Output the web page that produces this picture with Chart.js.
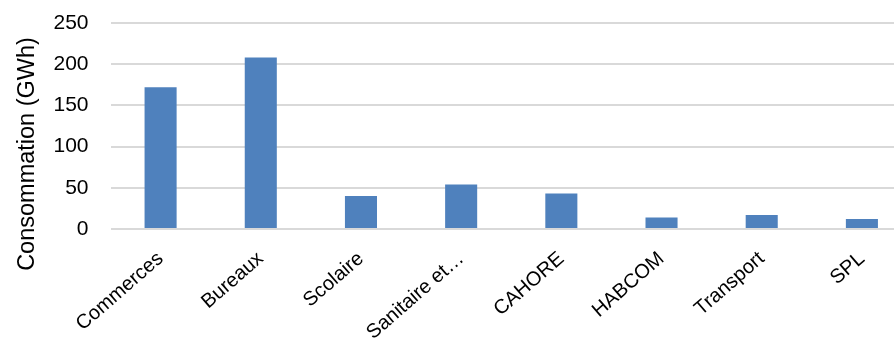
<!DOCTYPE html>
<html><head><meta charset="utf-8">
<script src="https://cdn.jsdelivr.net/npm/chart.js@4"></script>
<style>
html,body{margin:0;padding:0;background:#fff;overflow:hidden;}
#wrap{width:912px;height:339px;position:relative;}
</style></head>
<body>
<div id="wrap"><canvas id="c"></canvas></div>
<script>
const categories = ["Commerces","Bureaux","Scolaire","Sanitaire et\u2026","CAHORE","HABCOM","Transport","SPL"];
const consommation = [172, 208, 40, 54, 43, 14, 17, 12];
const yTicks = [0, 50, 100, 150, 200, 250];
const yTitle = "Consommation (GWh)";

const FONT = "'Liberation Sans', Arial, sans-serif";

const yTitlePlugin = {
  id: 'yTitlePlugin',
  afterDraw(chart) {
    const ctx = chart.ctx;
    ctx.save();
    ctx.translate(27.5, 154);
    ctx.rotate(-Math.PI / 2);
    ctx.font = "23.5px " + FONT;
    ctx.fillStyle = '#000';
    ctx.textAlign = 'center';
    ctx.textBaseline = 'middle';
    ctx.fillText(yTitle, 0, 0);
    ctx.restore();
  }
};

new Chart(document.getElementById('c'), {
  type: 'bar',
  data: {
    labels: categories,
    datasets: [{
      data: consommation,
      backgroundColor: '#4f81bd',
      categoryPercentage: 1,
      barPercentage: 0.32
    }]
  },
  plugins: [yTitlePlugin],
  options: {
    responsive: true,
    maintainAspectRatio: false,
    animation: false,
    layout: { padding: { top: 23, left: 0, right: 0, bottom: 0 } },
    plugins: { legend: { display: false }, tooltip: { enabled: false } },
    scales: {
      x: {
        grid: { display: false },
        border: { display: false },
        ticks: {
          color: '#000', font: { family: FONT, size: 20 },
          minRotation: 41, maxRotation: 41, padding: 10, autoSkip: false
        },
        afterFit: s => { s.height = 110; }
      },
      y: {
        min: 0, max: 250,
        afterBuildTicks: s => { s.ticks = yTicks.map(v => ({ value: v })); },
        grid: { color: '#d9d9d9', lineWidth: 2, drawTicks: false },
        border: { display: false },
        ticks: { color: '#000', font: { family: FONT, size: 21 }, padding: 22 },
        title: { display: false },
        afterFit: s => { s.width = 110.5; s.paddingTop = 0; s.paddingBottom = 0; }
      }
    }
  }
});
</script>
</body></html>
